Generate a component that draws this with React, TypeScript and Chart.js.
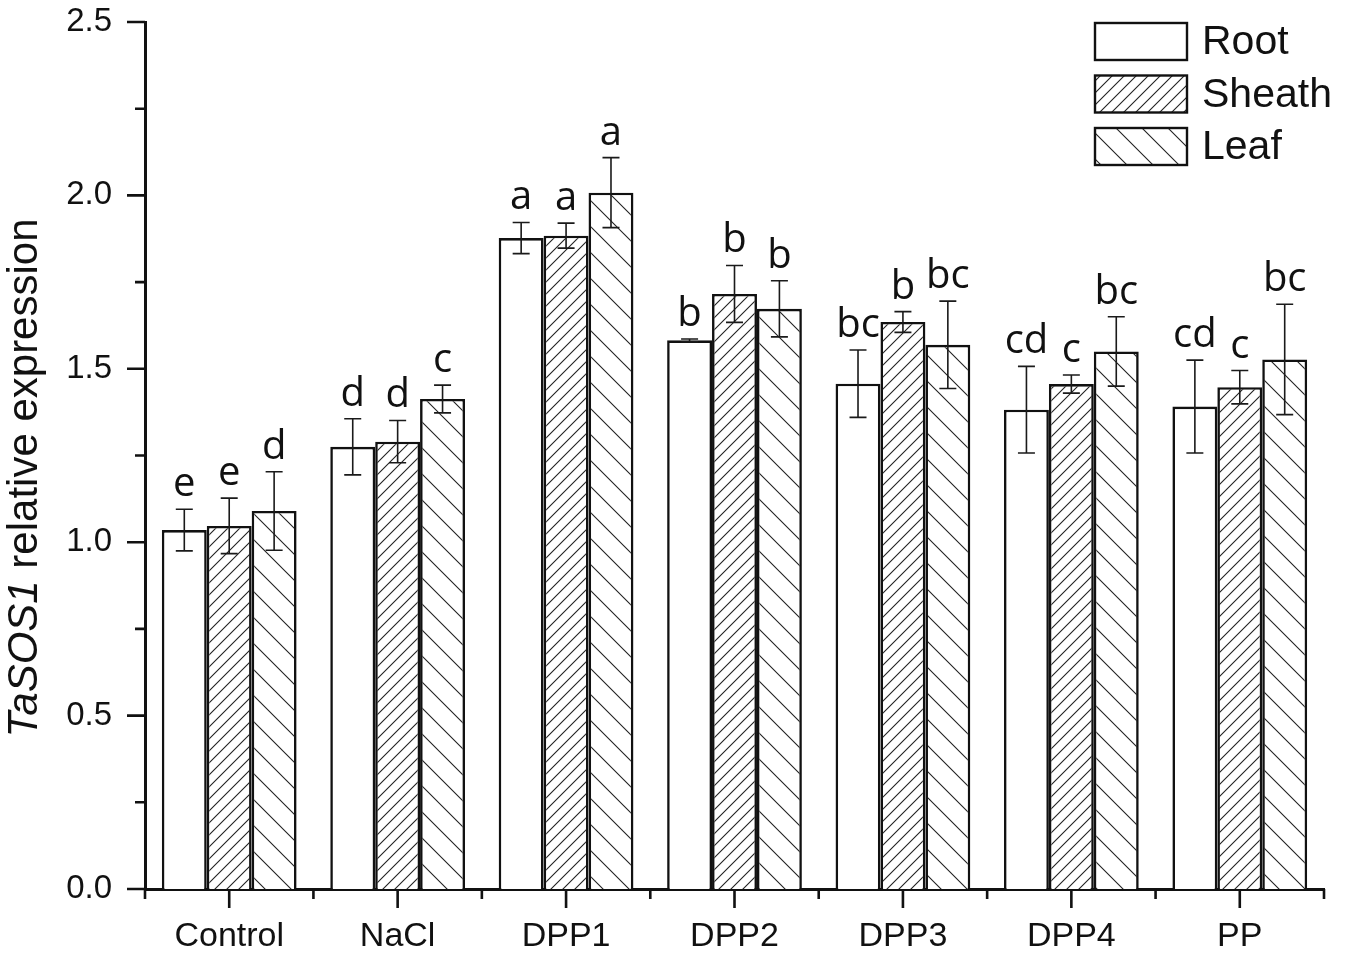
import { useEffect, useRef } from "react"
import { Chart, registerables } from "chart.js"
import type { Plugin } from "chart.js"

Chart.register(...registerables)

// Values
const categories = ["Control", "NaCl", "DPP1", "DPP2", "DPP3", "DPP4", "PP"]

const rootValues = [1.035, 1.275, 1.877, 1.582, 1.457, 1.382, 1.391]
const rootErrors = [0.06, 0.081, 0.045, 0.004, 0.097, 0.125, 0.134]
const rootLetters = ["e", "d", "a", "b", "bc", "cd", "cd"]

const sheathValues = [1.047, 1.29, 1.884, 1.716, 1.635, 1.456, 1.447]
const sheathErrors = [0.08, 0.061, 0.036, 0.082, 0.03, 0.026, 0.048]
const sheathLetters = ["e", "d", "a", "b", "b", "c", "c"]

const leafValues = [1.09, 1.413, 2.008, 1.673, 1.569, 1.55, 1.527]
const leafErrors = [0.113, 0.04, 0.101, 0.081, 0.126, 0.1, 0.159]
const leafLetters = ["d", "c", "a", "b", "bc", "bc", "bc"]

const yMajorTicks = [0, 0.5, 1.0, 1.5, 2.0, 2.5]
const yMinorTicks = [0.25, 0.75, 1.25, 1.75, 2.25]

const seriesNames = ["Root", "Sheath", "Leaf"]

const ARIAL = "'Liberation Sans', Arial, sans-serif"
const LETTER_FONT = "'Open Sans', 'Noto Sans', sans-serif"
const INK = "#111"

// diagonal hatch tile; dir "/" or "\"
function makeHatch(size: number, dir: "/" | "\\", lineWidth: number) {
  const c = document.createElement("canvas")
  c.width = size
  c.height = size
  const g = c.getContext("2d")!
  g.fillStyle = "#fff"
  g.fillRect(0, 0, size, size)
  g.strokeStyle = "#222"
  g.lineWidth = lineWidth
  g.beginPath()
  if (dir === "/") {
    g.moveTo(0, size)
    g.lineTo(size, 0)
    g.moveTo(-2, 2)
    g.lineTo(2, -2)
    g.moveTo(size - 2, size + 2)
    g.lineTo(size + 2, size - 2)
  } else {
    g.moveTo(0, 0)
    g.lineTo(size, size)
    g.moveTo(size - 2, -2)
    g.lineTo(size + 2, 2)
    g.moveTo(-2, size - 2)
    g.lineTo(2, size + 2)
  }
  g.stroke()
  return g.createPattern(c, "repeat")!
}

const errorBars = [rootErrors, sheathErrors, leafErrors]
const letters = [rootLetters, sheathLetters, leafLetters]

const errorBarPlugin: Plugin<"bar"> = {
  id: "errorBars",
  afterDatasetsDraw(chart) {
    const { ctx } = chart
    const y = chart.scales.y
    ctx.save()
    chart.data.datasets.forEach((ds, di) => {
      const meta = chart.getDatasetMeta(di)
      meta.data.forEach((bar, i) => {
        const v = ds.data[i] as number
        const e = errorBars[di][i]
        const top = y.getPixelForValue(v + e)
        const bottom = y.getPixelForValue(v - e)
        const x = bar.x
        ctx.strokeStyle = "#1a1a1a"
        ctx.lineWidth = 1.6
        ctx.beginPath()
        ctx.moveTo(x, top)
        ctx.lineTo(x, bottom)
        ctx.moveTo(x - 8.5, top)
        ctx.lineTo(x + 8.5, top)
        ctx.moveTo(x - 8.5, bottom)
        ctx.lineTo(x + 8.5, bottom)
        ctx.stroke()

        ctx.fillStyle = INK
        ctx.font = `40px ${LETTER_FONT}`
        ctx.textAlign = "center"
        ctx.textBaseline = "alphabetic"
        ctx.fillText(letters[di][i], x, top - 13)
      })
    })
    ctx.restore()
  },
}

const axisDecorPlugin: Plugin<"bar"> = {
  id: "axisDecor",
  afterDraw(chart) {
    const { ctx, chartArea } = chart
    const x = chart.scales.x
    const y = chart.scales.y
    ctx.save()
    ctx.strokeStyle = INK
    ctx.lineWidth = 2.6
    ctx.lineCap = "butt"

    // y ticks, pointing out
    ctx.beginPath()
    yMajorTicks.forEach((v) => {
      const py = y.getPixelForValue(v)
      ctx.moveTo(chartArea.left - 18, py)
      ctx.lineTo(chartArea.left, py)
    })
    yMinorTicks.forEach((v) => {
      const py = y.getPixelForValue(v)
      ctx.moveTo(chartArea.left - 10, py)
      ctx.lineTo(chartArea.left, py)
    })
    // x ticks: major at centres, minor at category edges
    categories.forEach((_, i) => {
      const px = x.getPixelForValue(i)
      ctx.moveTo(px, chartArea.bottom)
      ctx.lineTo(px, chartArea.bottom + 19)
    })
    for (let i = 0; i <= categories.length; i++) {
      let px
      if (i === 0) px = x.left
      else if (i === categories.length) px = x.right
      else px = (x.getPixelForValue(i - 1) + x.getPixelForValue(i)) / 2
      ctx.moveTo(px, chartArea.bottom)
      ctx.lineTo(px, chartArea.bottom + 10)
    }
    ctx.stroke()

    // y title with italic gene name
    const italicPart = "TaSOS1"
    const plainPart = " relative expression"
    ctx.fillStyle = INK
    ctx.textBaseline = "alphabetic"
    ctx.textAlign = "left"
    ctx.font = `italic 42px ${ARIAL}`
    const w1 = ctx.measureText(italicPart).width
    ctx.font = `42px ${ARIAL}`
    const w2 = ctx.measureText(plainPart).width
    ctx.translate(37, 478)
    ctx.rotate(-Math.PI / 2)
    const start = -(w1 + w2) / 2
    ctx.font = `italic 42px ${ARIAL}`
    ctx.fillText(italicPart, start, 0)
    ctx.font = `42px ${ARIAL}`
    ctx.fillText(plainPart, start + w1, 0)
    ctx.restore()

    // legend, top right inside the plot
    ctx.save()
    const lx = chartArea.right - 229
    chart.data.datasets.forEach((ds, di) => {
      const top = chartArea.top + 1 + di * 52.5
      ctx.fillStyle = ds.backgroundColor as any
      ctx.fillRect(lx, top, 92, 37)
      ctx.strokeStyle = INK
      ctx.lineWidth = 2.4
      ctx.strokeRect(lx, top, 92, 37)
      ctx.fillStyle = INK
      ctx.font = `41px ${ARIAL}`
      ctx.textBaseline = "middle"
      ctx.textAlign = "left"
      ctx.fillText(ds.label as string, lx + 107, top + 20)
    })
    ctx.restore()
  },
}

export default function App() {
  const chartRef = useRef<HTMLCanvasElement>(null)
  const chartInstance = useRef<Chart | null>(null)

  useEffect(() => {
    if (!chartRef.current) return
    if (chartInstance.current) chartInstance.current.destroy()
    const ctx = chartRef.current.getContext("2d")
    if (!ctx) return

    const fills = ["#ffffff", makeHatch(12, "/", 1.1), makeHatch(26, "\\", 1.1)]
    const values = [rootValues, sheathValues, leafValues]

    chartInstance.current = new Chart(ctx, {
      type: "bar",
      data: {
        labels: categories,
        datasets: seriesNames.map((name, i) => ({
          label: name,
          data: values[i],
          backgroundColor: fills[i] as any,
          borderColor: INK,
          borderWidth: 2.6,
          barPercentage: 1,
          categoryPercentage: 0.8,
        })),
      },
      options: {
        responsive: false,
        animation: false,
        layout: { padding: { top: 22, right: 26, left: 0, bottom: 0 } },
        plugins: {
          legend: { display: false },
          tooltip: { enabled: false },
        },
        scales: {
          x: {
            grid: { display: false, drawTicks: false },
            border: { display: true, color: INK, width: 3 },
            ticks: {
              color: INK,
              font: { family: ARIAL, size: 34 },
              padding: 27,
            },
            afterFit: (scale: any) => {
              scale.height = 65
              scale.paddingLeft = 0
              scale.paddingRight = 0
            },
          },
          y: {
            min: 0,
            max: 2.5,
            grid: { display: false, drawTicks: false },
            border: { display: true, color: INK, width: 3 },
            afterBuildTicks: (scale) => {
              scale.ticks = yMajorTicks.map((v) => ({ value: v }))
            },
            ticks: {
              color: INK,
              font: { family: ARIAL, size: 33 },
              padding: 33,
              callback: (value) => Number(value).toFixed(1),
            },
            afterFit: (scale: any) => {
              scale.width = 145
              scale.paddingTop = 0
              scale.paddingBottom = 0
            },
          },
        },
      },
      plugins: [errorBarPlugin, axisDecorPlugin],
    })

    return () => {
      if (chartInstance.current) {
        chartInstance.current.destroy()
        chartInstance.current = null
      }
    }
  }, [])

  return (
    <div style={{ position: "fixed", left: 0, top: 0, width: 1350, height: 954, background: "#fff" }}>
      <canvas ref={chartRef} width={1350} height={954}></canvas>
    </div>
  )
}
